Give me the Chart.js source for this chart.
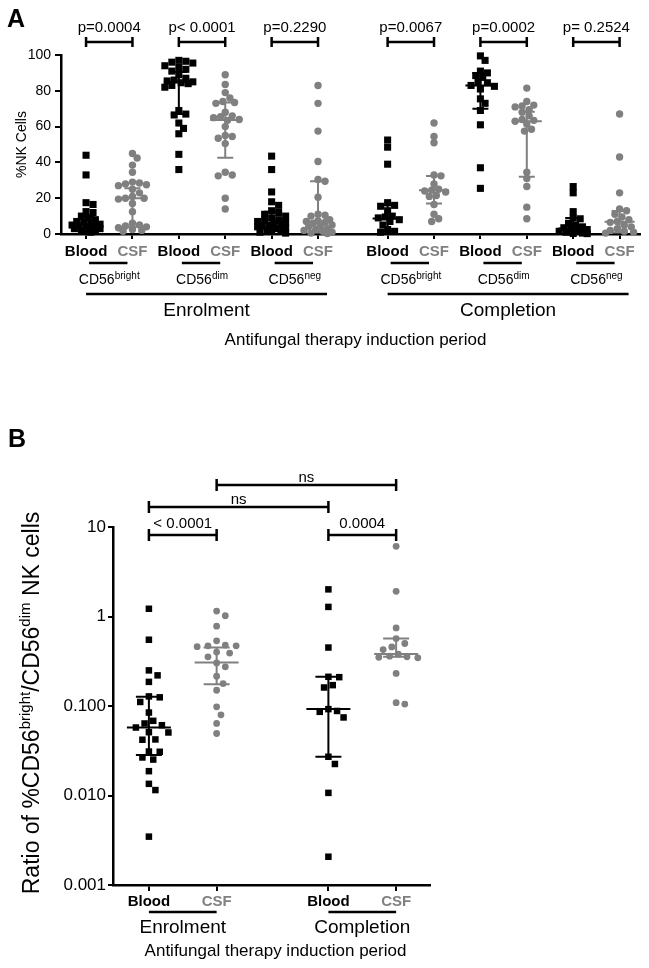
<!DOCTYPE html>
<html>
<head>
<meta charset="utf-8">
<script src="https://cdn.jsdelivr.net/npm/chart.js@4.4.1/dist/chart.umd.min.js"></script>
<style>
  html, body { margin: 0; padding: 0; background: #fff; }
  #panelA { position: absolute; left: 0; top: 0; }
  #panelB { position: absolute; left: 0; top: 360px; }
</style>
</head>
<body>
<canvas id="panelA" width="649" height="360"></canvas>
<canvas id="panelB" width="649" height="608"></canvas>
<script>
const FONT = "'Liberation Sans', Arial, Helvetica, sans-serif";
const BLACK = "#000000";
const GREY = "#808080";

// ---- data ----
const sourceLabels = ["Blood", "CSF"];
const periods = ["Enrolment", "Completion"];
const xTitle = "Antifungal therapy induction period";

// panel A: %NK cells; groups = CD56 bright/dim/neg at enrolment, then at completion
const subsetsA = ["bright", "dim", "neg", "bright", "dim", "neg"];
const pValuesA = ["p=0.0004", "p< 0.0001", "p=0.2290", "p=0.0067", "p=0.0002", "p= 0.2524"];
const ticksA = [0, 20, 40, 60, 80, 100];

const bloodA = [
  [44, 33, 17.5, 16.5, 12.5, 12, 10, 9, 8, 7, 6.5, 6, 5.5, 5, 5, 4.5, 4, 3.5, 3, 3, 2.5, 2, 1.5, 1],
  [97, 96.5, 96, 95.5, 94, 93, 92, 91, 89, 87, 86, 85.5, 85, 84.5, 84, 83, 82, 69, 67, 66.5, 62, 59, 56, 44.5, 36],
  [43.5, 36, 23.5, 18, 16, 13, 12, 11, 10, 9, 8, 7.5, 7, 6.5, 6, 5.5, 5, 4.5, 4, 3.5, 3, 2.5, 2, 1.5, 1, 0.5],
  [52.5, 48.5, 39, 17.5, 16, 15.5, 13, 10, 9.5, 9, 8, 7, 5, 2.5, 1.5, 1],
  [99.5, 97, 91, 90, 88.5, 87.5, 85, 84.5, 83, 82.5, 81, 75.5, 73, 69, 61, 37, 25.5],
  [26.5, 23, 12.5, 9, 8.5, 6, 5, 4, 3.5, 3, 2.5, 2, 1.5, 1, 0.5, 0.3, 0.2]
];
const csfA = [
  [45, 42.5, 38.5, 34.5, 29, 28.5, 28, 27.5, 27, 25, 23, 21, 20, 20, 19.5, 17, 12.5, 6, 5, 4.5, 4, 3.5, 2.5, 2, 1.5],
  [89, 83.5, 79, 76, 74, 73.5, 73, 68, 66, 65.5, 65, 64, 63.5, 60, 55, 54.5, 53.5, 50.5, 34.5, 33, 32.5, 20, 14],
  [83, 73, 57.5, 40.5, 30.5, 29.5, 20.5, 11, 10.5, 10, 8, 7.5, 7, 6.5, 6, 5, 4.5, 4, 3, 2.5, 2, 1.5, 1, 0.5, 0.3],
  [62, 54.5, 51, 33, 32.5, 28, 25, 24.5, 24, 23.5, 21.5, 21, 16.5, 11, 8.5, 7],
  [81.5, 74, 72, 71.5, 71, 69.5, 68, 66, 64, 63.5, 63, 61.5, 58.5, 57.5, 34.5, 31, 26.5, 15, 8.5],
  [67, 43, 23, 14, 13, 11, 9.5, 8, 7, 6.5, 5, 4, 3, 2, 1.5, 1, 0.5]
];
const bloodMedianA = [5.4, 85, 6, 8.7, 83, 3.1];
const bloodQ1A = [2.5, 67, 2.5, 1.5, 70, 0.8];
const bloodQ3A = [10, 90.5, 12.5, 16, 90, 8.9];
const csfMedianA = [20, 63.7, 7, 24.4, 63, 6.9];
const csfQ1A = [4, 42.6, 0.8, 17, 32, 0.8];
const csfQ3A = [25.5, 73.5, 29.5, 32.4, 68.3, 12.8];

// panel B: ratio CD56bright / CD56dim, enrolment and completion
const ticksB = [0.001, 0.01, 0.1, 1, 10];
const tickLabelsB = ["0.001", "0.010", "0.100", "1", "10"];
const bloodB = [
  [1.22, 0.55, 0.25, 0.22, 0.186, 0.128, 0.125, 0.111, 0.0845, 0.0683, 0.0638, 0.061, 0.0575, 0.0506, 0.051,
   0.0423, 0.042, 0.0308, 0.031, 0.0266, 0.0252, 0.0187, 0.0135, 0.0115, 0.00347],
  [2.01, 1.28, 0.45, 0.212, 0.21, 0.171, 0.161, 0.0923, 0.088, 0.0861, 0.0745, 0.0271, 0.0225, 0.0107, 0.00207]
];
const csfB = [
  [1.15, 1.02, 0.78, 0.535, 0.48, 0.47, 0.46, 0.47, 0.39, 0.4, 0.354, 0.303, 0.274, 0.215, 0.178, 0.15,
   0.098, 0.0796, 0.0638, 0.0493],
  [6.08, 1.91, 0.746, 0.566, 0.499, 0.457, 0.427, 0.379, 0.36, 0.355, 0.35, 0.345, 0.231, 0.109, 0.105]
];
const bloodMedianB = [0.0575, 0.0925];
const bloodQ1B = [0.0284, 0.0271];
const bloodQ3B = [0.127, 0.212];
const csfMedianB = [0.306, 0.38];
const csfQ1B = [0.175, 0.354];
const csfQ3B = [0.45, 0.566];
// column pairs compared in B (0 = blood enrol, 1 = csf enrol, 2 = blood compl, 3 = csf compl)
const comparisonsB = [[0, 1, "< 0.0001"], [2, 3, "0.0004"], [0, 2, "ns"], [1, 3, "ns"]];

// ---- helpers ----
const slotA = j => j + (j >= 6 ? 0.5 : 0);
const slotB = j => j + (j >= 2 ? 0.65 : 0);

function points(groups, slotOf) {
  return groups.flatMap((vals, g) => vals.map(v => ({ x: slotOf(g), y: v, base: slotOf(g) })));
}

function seg(ctx, x1, y1, x2, y2, color, w) {
  ctx.save();
  ctx.strokeStyle = color;
  ctx.lineWidth = w;
  ctx.beginPath();
  ctx.moveTo(x1, y1);
  ctx.lineTo(x2, y2);
  ctx.stroke();
  ctx.restore();
}

function text(ctx, str, x, y, font, color, align) {
  ctx.save();
  ctx.font = font;
  ctx.fillStyle = color || BLACK;
  ctx.textAlign = align || "center";
  ctx.textBaseline = "middle";
  ctx.fillText(str, x, y);
  ctx.restore();
}

function drawRich(ctx, parts, cx, baseY) {
  let total = 0;
  parts.forEach(p => { ctx.font = p.font; p.w = ctx.measureText(p.text).width; total += p.w; });
  let x = cx - total / 2;
  ctx.fillStyle = BLACK;
  ctx.textAlign = "left";
  ctx.textBaseline = "alphabetic";
  parts.forEach(p => { ctx.font = p.font; ctx.fillText(p.text, x, baseY + (p.dy || 0)); x += p.w; });
}

function bracket(ctx, x1, x2, y, half, label, ty) {
  seg(ctx, x1, y, x2, y, BLACK, 2.5);
  seg(ctx, x1, y - half, x1, y + half, BLACK, 2.5);
  seg(ctx, x2, y - half, x2, y + half, BLACK, 2.5);
  text(ctx, label, (x1 + x2) / 2, ty, "15px " + FONT, BLACK);
}

function summary(ctx, cx, ys, med, lo, hi, color, medHalf, capHalf) {
  const ym = ys.getPixelForValue(med), yl = ys.getPixelForValue(lo), yh = ys.getPixelForValue(hi);
  ctx.save();
  ctx.strokeStyle = color;
  ctx.lineWidth = 2;
  ctx.beginPath();
  ctx.moveTo(cx, yh); ctx.lineTo(cx, yl);
  ctx.moveTo(cx - medHalf, ym); ctx.lineTo(cx + medHalf, ym);
  ctx.moveTo(cx - capHalf, yh); ctx.lineTo(cx + capHalf, yh);
  ctx.moveTo(cx - capHalf, yl); ctx.lineTo(cx + capHalf, yl);
  ctx.stroke();
  ctx.restore();
}

// spread points sideways within +-maxOff px; where the column is crowded they overlap
function swarm(chart, size, gap, maxOff) {
  const xs = chart.scales.x, ys = chart.scales.y;
  const need = (size * gap) ** 2;
  chart.data.datasets.forEach(ds => {
    const groups = new Map();
    ds.data.forEach(p => {
      if (!groups.has(p.base)) groups.set(p.base, []);
      groups.get(p.base).push(p);
    });
    groups.forEach((pts, base) => {
      const bx = xs.getPixelForValue(base);
      const placed = [];
      pts.map(p => ({ p, py: ys.getPixelForValue(p.y) }))
        .sort((a, b) => a.py - b.py)
        .forEach(o => {
          let best = 0, bestD = -1;
          for (let k = 0; ; k++) {
            const cand = (k % 2 ? 1 : -1) * Math.ceil(k / 2) * size / 3;
            if (Math.abs(cand) > maxOff) break;
            const d = placed.reduce((m, q) => Math.min(m, (cand - q.dx) ** 2 + (o.py - q.py) ** 2), Infinity);
            if (d >= need) { best = cand; break; }
            if (d > bestD + 1) { bestD = d; best = cand; }
          }
          placed.push({ dx: best, py: o.py });
          o.p.x = xs.getValueForPixel(bx + best);
        });
    });
  });
  chart.update("none");
}

Chart.defaults.color = BLACK;
Chart.defaults.font.family = FONT;

// ---- panel A ----
const extrasA = {
  id: "extrasA",
  afterDatasetsDraw(chart) {
    const { ctx, scales: { x, y } } = chart;
    for (let g = 0; g < 6; g++) {
      summary(ctx, x.getPixelForValue(slotA(2 * g)), y, bloodMedianA[g], bloodQ1A[g], bloodQ3A[g], BLACK, 15, 8);
      summary(ctx, x.getPixelForValue(slotA(2 * g + 1)), y, csfMedianA[g], csfQ1A[g], csfQ3A[g], GREY, 15, 8);
    }
  },
  afterDraw(chart) {
    const { ctx, chartArea: { top, bottom, left, right }, scales: { x } } = chart;
    const px = j => x.getPixelForValue(slotA(j));
    for (let g = 0; g < 6; g++) {
      const x1 = px(2 * g), x2 = px(2 * g + 1);
      bracket(ctx, x1, x2, top - 13, 5, pValuesA[g], top - 27);
      seg(ctx, x1 + 3, bottom + 29, x2 - 5, bottom + 29, BLACK, 2.5);
      drawRich(ctx, [
        { text: "CD56", font: "14px " + FONT },
        { text: subsetsA[g], font: "10px " + FONT, dy: -5 }
      ], (x1 + x2) / 2, bottom + 50);
    }
    for (let j = 0; j < 12; j++) {
      text(ctx, sourceLabels[j % 2], px(j), bottom + 18, "bold 15px " + FONT, j % 2 ? GREY : BLACK);
    }
    periods.forEach((name, p) => {
      const x1 = px(6 * p), x2 = px(6 * p + 5) + 9;
      seg(ctx, x1, bottom + 60, x2, bottom + 60, BLACK, 2.5);
      text(ctx, name, (x1 + x2) / 2, bottom + 77, "19px " + FONT, BLACK);
    });
    text(ctx, xTitle, (left + right) / 2 + 5, bottom + 106, "17px " + FONT, BLACK);
    text(ctx, "A", 16, 20, "bold 25px " + FONT, BLACK);
  }
};

const chartA = new Chart(document.getElementById("panelA"), {
  type: "scatter",
  data: {
    datasets: [
      { data: points(bloodA, g => slotA(2 * g)), pointStyle: "rect", pointRadius: 5, backgroundColor: BLACK, borderWidth: 0, clip: false },
      { data: points(csfA, g => slotA(2 * g + 1)), pointStyle: "circle", pointRadius: 3.7, backgroundColor: GREY, borderWidth: 0, clip: false }
    ]
  },
  options: {
    responsive: false,
    animation: false,
    events: [],
    layout: { padding: { top: 55, right: 9, left: 0, bottom: 0 } },
    plugins: { legend: { display: false }, tooltip: { enabled: false } },
    scales: {
      x: {
        type: "linear", min: -0.54, max: 11.94,
        afterBuildTicks: s => { s.ticks = Array.from({ length: 12 }, (_, j) => ({ value: slotA(j) })); },
        afterFit: s => { s.height = 126; },
        ticks: { display: false },
        grid: { drawOnChartArea: false, drawTicks: true, tickLength: 5, color: BLACK, lineWidth: 2 },
        border: { display: true, color: BLACK, width: 2.5 }
      },
      y: {
        min: 0, max: 100,
        afterBuildTicks: s => { s.ticks = ticksA.map(v => ({ value: v })); },
        afterFit: s => { s.width = 61; },
        ticks: { color: BLACK, font: { size: 14 }, padding: 4 },
        grid: { drawOnChartArea: false, tickLength: 6, color: BLACK, lineWidth: 2 },
        border: { display: true, color: BLACK, width: 2.5 },
        title: { display: true, text: "%NK Cells", color: BLACK, font: { size: 14 }, padding: { top: 14, bottom: 0 } }
      }
    }
  },
  plugins: [extrasA]
});
swarm(chartA, 7, 0.85, 14);

// ---- panel B ----
const extrasB = {
  id: "extrasB",
  afterDatasetsDraw(chart) {
    const { ctx, scales: { x, y } } = chart;
    for (let p = 0; p < 2; p++) {
      summary(ctx, x.getPixelForValue(slotB(2 * p)), y, bloodMedianB[p], bloodQ1B[p], bloodQ3B[p], BLACK, 22, 13);
      summary(ctx, x.getPixelForValue(slotB(2 * p + 1)), y, csfMedianB[p], csfQ1B[p], csfQ3B[p], GREY, 22, 13);
    }
  },
  afterDraw(chart) {
    const { ctx, chartArea: { top, bottom, left, right }, scales: { x } } = chart;
    const px = j => x.getPixelForValue(slotB(j));
    const levels = [8, 8, -20, -42];
    comparisonsB.forEach(([a, b, label], i) => {
      bracket(ctx, px(a), px(b), top + levels[i], 6, label, top + levels[i] - (i < 2 ? 11 : 7));
    });
    for (let j = 0; j < 4; j++) {
      text(ctx, sourceLabels[j % 2], px(j), bottom + 17, "bold 15px " + FONT, j % 2 ? GREY : BLACK);
    }
    periods.forEach((name, p) => {
      const x1 = px(2 * p), x2 = px(2 * p + 1);
      seg(ctx, x1, bottom + 27, x2, bottom + 27, BLACK, 2.5);
      text(ctx, name, (x1 + x2) / 2, bottom + 43, "19px " + FONT, BLACK);
    });
    text(ctx, xTitle, (left + right) / 2 + 4, bottom + 66, "17px " + FONT, BLACK);
    ctx.save();
    ctx.translate(31, (top + bottom) / 2 - 3);
    ctx.rotate(-Math.PI / 2);
    drawRich(ctx, [
      { text: "Ratio of %CD56", font: "23px " + FONT },
      { text: "bright", font: "15px " + FONT, dy: -9 },
      { text: "/CD56", font: "23px " + FONT },
      { text: "dim", font: "15px " + FONT, dy: -9 },
      { text: " NK cells", font: "23px " + FONT }
    ], 0, 8);
    ctx.restore();
    text(ctx, "B", 17, 80, "bold 25px " + FONT, BLACK);
  }
};

const chartB = new Chart(document.getElementById("panelB"), {
  type: "scatter",
  data: {
    datasets: [
      { data: points(bloodB, p => slotB(2 * p)), pointStyle: "rect", pointRadius: 4.6, backgroundColor: BLACK, borderWidth: 0, clip: false },
      { data: points(csfB, p => slotB(2 * p + 1)), pointStyle: "circle", pointRadius: 3.4, backgroundColor: GREY, borderWidth: 0, clip: false }
    ]
  },
  options: {
    responsive: false,
    animation: false,
    events: [],
    layout: { padding: { top: 167, right: 219, left: 0, bottom: 0 } },
    plugins: { legend: { display: false }, tooltip: { enabled: false } },
    scales: {
      x: {
        type: "linear", min: -0.53, max: 4.15,
        afterBuildTicks: s => { s.ticks = [0, 1, 2, 3].map(j => ({ value: slotB(j) })); },
        afterFit: s => { s.height = 83; },
        ticks: { display: false },
        grid: { drawOnChartArea: false, drawTicks: true, tickLength: 6, color: BLACK, lineWidth: 2 },
        border: { display: true, color: BLACK, width: 2.5 }
      },
      y: {
        type: "logarithmic", min: 0.001, max: 10,
        afterBuildTicks: s => { s.ticks = ticksB.map(v => ({ value: v })); },
        afterFit: s => { s.width = 113; },
        ticks: { color: BLACK, font: { size: 17 }, padding: 2, callback: (v, i) => tickLabelsB[i] },
        grid: { drawOnChartArea: false, tickLength: 5, color: BLACK, lineWidth: 2 },
        border: { display: true, color: BLACK, width: 2.5 }
      }
    }
  },
  plugins: [extrasB]
});
swarm(chartB, 6.5, 1.35, 22);
</script>
</body>
</html>
